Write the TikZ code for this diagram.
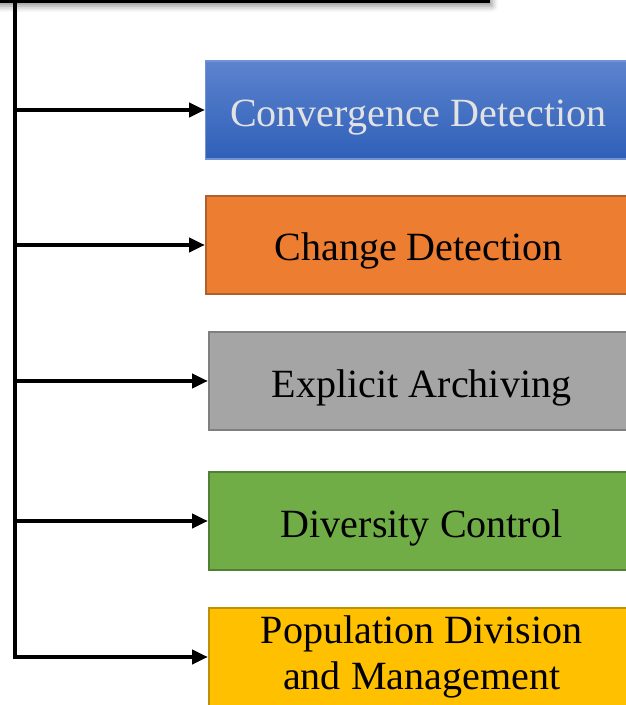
\documentclass[tikz,border=0pt]{standalone}
\usepackage{fontspec}
\setmainfont{Liberation Serif}
\usetikzlibrary{arrows.meta,shadows.blur}

\definecolor{convtop}{HTML}{5C83CD}
\definecolor{convbot}{HTML}{2F60B9}
\definecolor{convline}{HTML}{7193D4}
\definecolor{convtext}{HTML}{E2E2E2}
\definecolor{chfill}{HTML}{ED7D31}
\definecolor{chline}{HTML}{B0602A}
\definecolor{arfill}{HTML}{A5A5A5}
\definecolor{arline}{HTML}{7F7F7F}
\definecolor{dvfill}{HTML}{70AD47}
\definecolor{dvline}{HTML}{537F35}
\definecolor{pdfill}{HTML}{FFC000}
\definecolor{pdline}{HTML}{BF9000}

\begin{document}
\begin{tikzpicture}
  \tikzstyle{term}=[anchor=west,minimum width=85mm,minimum height=19.6mm,
    line width=1.3pt,align=center,font=\fontsize{22.8}{25.8}\selectfont]
  \tikzstyle{oneline}=[text height=7mm,text depth=0.6mm]
  \tikzstyle{root}=[minimum width=103mm,minimum height=6mm,draw,fill=black,
    blur shadow={shadow xshift=0.6mm,shadow yshift=-0.8mm,
      shadow blur radius=1.2mm,shadow opacity=45}]
  \tikzstyle{link}=[draw,line width=0.8mm,-{Triangle[length=3.2mm,width=2.8mm]}]

  \tikzstyle{first}=[top color=convtop,bottom color=convbot,draw=convline,
    line width=0.8pt,text=convtext]
  \tikzstyle{second}=[fill=chfill,draw=chline]
  \tikzstyle{third}=[fill=arfill,draw=arline]
  \tikzstyle{fourth}=[fill=dvfill,draw=dvline]
  \tikzstyle{fifth}=[fill=pdfill,draw=pdline]

  \clip (0,0) rectangle (12.52,14.1) ;

  \node [root] (root) at (4.63,14.36) {} ;
  \coordinate (top) at (0.31,14.06) ;

  \node [term,oneline,first] (conv) at (4.10,11.90) {Convergence Detection} ;
  \node [term,oneline,second] (change) at (4.10,9.20) {Change Detection} ;
  \node [term,oneline,third] (archive) at (4.16,6.48) {Explicit Archiving} ;
  \node [term,oneline,fourth] (divers) at (4.16,3.68) {Diversity Control} ;
  \node [term,fifth] (popdiv) at (4.16,0.96)
    {Population Division\\and Management} ;

  \path [link] (top) |- (conv) ;
  \path [link] (top) |- (change) ;
  \path [link] (top) |- (archive) ;
  \path [link] (top) |- (divers) ;
  \path [link] (top) |- (popdiv) ;

\end{tikzpicture}
\end{document}
